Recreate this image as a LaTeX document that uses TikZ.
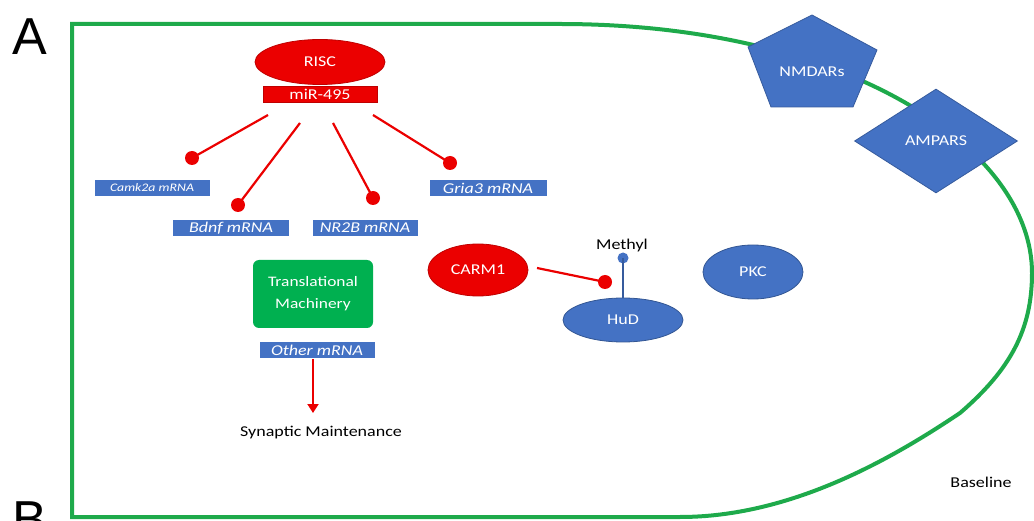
\documentclass[tikz,border=0pt]{standalone}
\usepackage{fontspec}
\setmainfont{Carlito}[FakeStretch=1.2]
\newfontfamily\letterfont{Liberation Sans}
\usetikzlibrary{shapes.geometric,arrows.meta}
\definecolor{offred}{RGB}{235,0,0}
\definecolor{offblue}{RGB}{68,114,196}
\definecolor{offgreen}{RGB}{0,176,80}
\definecolor{cellgreen}{RGB}{30,170,75}
\begin{document}
\begin{tikzpicture}[x=1pt,y=-1pt,
  redell/.style={ellipse, fill=offred, draw=red!75!black, line width=0.8, text=white, inner sep=0pt, font=\fontsize{15}{16}\selectfont},
  blueell/.style={ellipse, fill=offblue, draw=offblue!75!black, line width=0.8, text=white, inner sep=0pt, font=\fontsize{15}{16}\selectfont},
  mrna/.style={rectangle, fill=offblue, text=white, font=\itshape\fontsize{15}{16}\selectfont, minimum height=16pt, inner sep=0pt},
  blob/.style={circle, fill=offred, inner sep=0pt, minimum size=14pt},
  bblob/.style={circle, fill=offblue, inner sep=0pt, minimum size=11pt},
  inh/.style={draw=offred, line width=2.2pt},
  plain/.style={font=\fontsize{15}{16}\selectfont, text=black, inner sep=0pt},
  label/.style={text=white, inner sep=0pt, font=\fontsize{15}{16}\selectfont},
  recep/.style={fill=offblue, draw=offblue!80!black, line width=0.8},
  letter/.style={font=\letterfont\fontsize{52}{52}\selectfont, inner sep=0pt}
]
\useasboundingbox (0,0) rectangle (1034,521);
% cell outline
\draw[cellgreen, line width=4pt] (72,24) -- (560,24) .. controls (850,24) and (1032,150) .. (1032,273)
  .. controls (1032,330) and (1010,370) .. (960,413)
  .. controls (890,460) and (790,517) .. (680,517) -- (72,517) -- cycle;
% panel letters
\node[letter] (A) at (30,37) {A};
\node[letter] (B) at (30,520) {B};
% receptors
\filldraw[recep] (812,15) -- (748,47) -- (771,107) -- (853,107) -- (877,50) -- cycle;
\node[label] (nmda) at (812,72) {NMDARs};
\node[diamond, recep, minimum width=163pt, minimum height=104pt, inner sep=0pt, text=white, font=\fontsize{15}{16}\selectfont] (ampa) at (936,141) {AMPARS};
% RISC
\node[redell, minimum width=130pt, minimum height=45pt] (risc) at (320,62) {RISC};
\node[rectangle, fill=offred, draw=red!75!black, text=white, minimum width=114pt, minimum height=16pt, inner sep=0pt, font=\fontsize{15}{16}\selectfont] (mir) at (320,94) {miR-495};
% mRNA labels
\node[mrna, minimum width=115pt, font=\itshape\fontsize{11.5}{12}\selectfont] (camk) at (152,188) {Camk2a mRNA};
\node[mrna, minimum width=116pt] (bdnf) at (231,228) {Bdnf mRNA};
\node[mrna, minimum width=105pt] (nr2b) at (365,228) {NR2B mRNA};
\node[mrna, minimum width=117pt] (gria) at (488,188) {Gria3 mRNA};
% blobs
\node[blob] (b1) at (192,158) {};
\node[blob] (b2) at (238,205) {};
\node[blob] (b3) at (373,198) {};
\node[blob] (b4) at (450,163) {};
\coordinate (s1) at (268,115);
\coordinate (s2) at (300,123);
\coordinate (s3) at (333,123);
\coordinate (s4) at (373,115);
\draw[inh] (s1) -- (b1.center);
\draw[inh] (s2) -- (b2.center);
\draw[inh] (s3) -- (b3.center);
\draw[inh] (s4) -- (b4.center);
% translational machinery
\node[rectangle, rounded corners=6pt, fill=offgreen, text=white, minimum width=120pt, minimum height=68pt, inner sep=0pt, align=center, font=\fontsize{14.5}{22}\selectfont] (tm) at (313,294) {Translational\\Machinery};
\node[mrna, minimum width=115pt] (other) at (317,350) {Other mRNA};
\node[plain] (syn) at (321,433) {Synaptic Maintenance};
\draw[draw=offred, line width=2pt, -{Triangle[length=9pt,width=11pt]}] (313,359) -- (313,413);
% CARM1 / HuD
\node[redell, minimum width=100pt, minimum height=52pt] (carm) at (478,270) {CARM1};
\node[blueell, minimum width=120pt, minimum height=44pt] (hud) at (623,320) {HuD};
\node[blueell, minimum width=100pt, minimum height=54pt] (pkc) at (753,272) {PKC};
\node[blob] (b5) at (605,282) {};
\coordinate (s5) at (537,268);
\draw[inh] (s5) -- (b5.center);
\node[bblob] (me) at (623,258) {};
\draw[draw=offblue!80!black, line width=2.5pt] (hud.north) -- (me.center);
\node[plain] (methyl) at (622,246) {Methyl};
\node[plain] (base) at (981,482) {Baseline};
\end{tikzpicture}
\end{document}
